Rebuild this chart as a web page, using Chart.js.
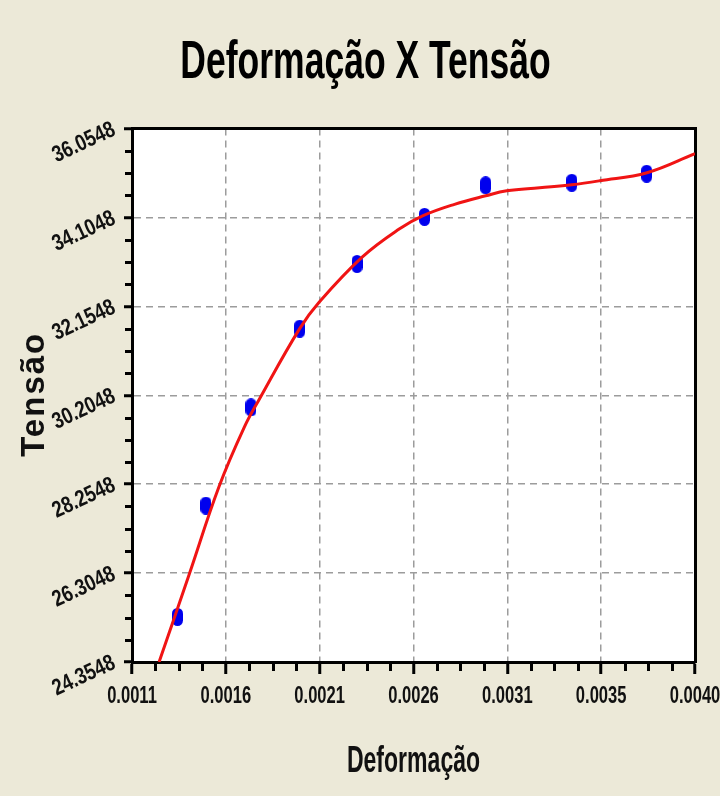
<!DOCTYPE html>
<html>
<head>
<meta charset="utf-8">
<script src="https://cdn.jsdelivr.net/npm/chart.js@4/dist/chart.umd.min.js"></script>
<style>
  html, body { margin: 0; padding: 0; background: #ECE9D8; }
  canvas { display: block; }
</style>
</head>
<body>
<canvas id="c" width="720" height="796"></canvas>
<script>
// ---- data ----
const strain = [0.001355, 0.001502, 0.001735, 0.001987, 0.002283, 0.002632, 0.002948, 0.003393, 0.003780];
const stress = [25.344, 27.786, 29.941, 31.667, 33.086, 34.119, 34.812, 34.867, 35.065];

const fitStrain = [0.00126, 0.001415, 0.00157, 0.00170, 0.001778, 0.001985, 0.002088, 0.002311, 0.002503, 0.002622, 0.002787, 0.002948, 0.003057, 0.003227, 0.003393, 0.003538, 0.003782, 0.00403];
const fitStress = [24.355, 26.268, 28.203, 29.501, 30.117, 31.656, 32.25, 33.24, 33.856, 34.14, 34.394, 34.581, 34.69, 34.757, 34.823, 34.911, 35.087, 35.505];

const xTickLabels = ['0.0011', '0.0016', '0.0021', '0.0026', '0.0031', '0.0035', '0.0040'];
const yTickLabels = ['24.3548', '26.3048', '28.2548', '30.2048', '32.1548', '34.1048', '36.0548'];
const xRange = [0.00112, 0.00403];
const yRange = [24.3548, 36.0548];

const titleText = 'Deformação X Tensão';
const xTitle = 'Deformação';
const yTitle = 'Tensão';

// ---- styling ----
const FONT = "'Liberation Sans', Arial, sans-serif";
// horizontal condensing of text by font size (reference uses a narrow, tall face)
const TEXT_SX = { 53: 0.67, 24: 0.69, 23: 0.8, 36: 0.64 };

const canvas = document.getElementById('c');
const ctx = canvas.getContext('2d');
const protoFill = CanvasRenderingContext2D.prototype.fillText;
ctx.fillText = function (t, x, y, mw) {
  const m = /(\d+(?:\.\d+)?)px/.exec(this.font);
  const sx = m ? (TEXT_SX[Math.round(parseFloat(m[1]))] || 1) : 1;
  if (sx === 1) return protoFill.call(this, t, x, y, mw);
  this.save();
  this.translate(x, y);
  this.scale(sx, 1);
  protoFill.call(this, t, 0, 0);
  this.restore();
};

function makeMarker() {
  const w = 11, h = 18;
  const c = document.createElement('canvas');
  c.width = w; c.height = h;
  const g = c.getContext('2d');
  g.fillStyle = '#0000ee';
  g.beginPath();
  const r = w / 2;
  g.moveTo(0, r);
  g.arc(r, r, r, Math.PI, 0);
  g.lineTo(w, h - r);
  g.arc(r, h - r, r, 0, Math.PI);
  g.closePath();
  g.fill();
  return c;
}

function evenTicks(range, n) {
  const out = [];
  for (let i = 0; i < n; i++) out.push({ value: range[0] + i * (range[1] - range[0]) / (n - 1) });
  return out;
}

const bgPlugin = {
  id: 'bg',
  beforeDraw(chart) {
    const { ctx, chartArea: a } = chart;
    ctx.save();
    ctx.fillStyle = '#ECE9D8';
    ctx.fillRect(0, 0, chart.width, chart.height);
    ctx.fillStyle = '#ffffff';
    ctx.fillRect(a.left, a.top, a.right - a.left, a.bottom - a.top);
    ctx.restore();
  }
};

const extrasPlugin = {
  id: 'extras',
  afterDraw(chart) {
    const { ctx, chartArea: a } = chart;
    const xs = chart.scales.x, ys = chart.scales.y;
    ctx.save();
    ctx.strokeStyle = '#000';
    ctx.lineWidth = 3;
    ctx.beginPath();
    for (let i = 0; i < xs.ticks.length - 1; i++) {
      const v0 = xs.ticks[i].value, v1 = xs.ticks[i + 1].value;
      for (let k = 1; k < 4; k++) {
        const px = Math.round(xs.getPixelForValue(v0 + k * (v1 - v0) / 4)) + 0.5;
        ctx.moveTo(px, a.bottom);
        ctx.lineTo(px, a.bottom + 9);
      }
    }
    for (let i = 0; i < ys.ticks.length - 1; i++) {
      const v0 = ys.ticks[i].value, v1 = ys.ticks[i + 1].value;
      for (let k = 1; k < 4; k++) {
        const py = Math.round(ys.getPixelForValue(v0 + k * (v1 - v0) / 4)) + 0.5;
        ctx.moveTo(a.left, py);
        ctx.lineTo(a.left - 7, py);
      }
    }
    ctx.stroke();
    // y axis title, letter-spaced
    ctx.fillStyle = '#111';
    ctx.font = "bold 33px " + FONT;
    try { ctx.letterSpacing = '2px'; } catch (e) {}
    ctx.textAlign = 'center';
    ctx.textBaseline = 'middle';
    ctx.translate(35, (a.top + a.bottom) / 2);
    ctx.rotate(-Math.PI / 2);
    protoFill.call(ctx, yTitle, 1, 0);
    ctx.restore();
  }
};

new Chart(ctx, {
  type: 'line',
  data: {
    datasets: [
      {
        label: 'Ajuste',
        data: fitStrain.map((x, i) => ({ x, y: fitStress[i] })),
        borderColor: '#f01414',
        borderWidth: 3,
        pointRadius: 0,
        tension: 0.4,
        fill: false,
        order: 0
      },
      {
        label: 'Dados',
        data: strain.map((x, i) => ({ x, y: stress[i] })),
        showLine: false,
        pointStyle: makeMarker(),
        pointRadius: 6,
        order: 1
      }
    ]
  },
  options: {
    responsive: false,
    animation: false,
    devicePixelRatio: 1,
    layout: { padding: { left: 11, right: 0, top: 0, bottom: 0 } },
    plugins: {
      legend: { display: false },
      tooltip: { enabled: false },
      title: {
        display: true,
        text: titleText,
        color: '#000',
        font: { family: FONT, size: 53, weight: 'bold', lineHeight: 1.2 },
        padding: { top: 32, bottom: 33 }
      }
    },
    scales: {
      x: {
        type: 'linear',
        position: 'bottom',
        min: xRange[0],
        max: xRange[1],
        afterBuildTicks: (s) => { s.ticks = evenTicks(xRange, xTickLabels.length); },
        afterFit: (s) => { s.height = 134; s.paddingLeft = 0; s.paddingRight = 0; },
        ticks: {
          autoSkip: false,
          maxRotation: 0,
          minRotation: 0,
          padding: 8,
          color: '#111',
          font: { family: FONT, size: 24, weight: 'bold' },
          callback: (v, i) => xTickLabels[i]
        },
        grid: {
          color: '#9c9c9c',
          lineWidth: 1.5,
          drawTicks: true,
          tickLength: 12,
          tickWidth: 3,
          tickColor: '#000',
          tickBorderDash: []
        },
        border: { display: true, color: '#000', width: 3, dash: [7, 5] },
        title: {
          display: true,
          text: xTitle,
          color: '#111',
          font: { family: FONT, size: 36, weight: 'bold', lineHeight: 1.2 },
          padding: { top: 0, bottom: 12 }
        }
      },
      x2: {
        type: 'linear',
        position: 'top',
        min: 0, max: 1,
        afterFit: (s) => { s.height = 0; },
        ticks: { display: false },
        grid: { display: false, drawTicks: false },
        border: { display: true, color: '#000', width: 3 }
      },
      y: {
        type: 'linear',
        position: 'left',
        min: yRange[0],
        max: yRange[1],
        afterBuildTicks: (s) => { s.ticks = evenTicks(yRange, yTickLabels.length); },
        afterFit: (s) => { s.width = 121; s.paddingTop = 0; s.paddingBottom = 0; },
        ticks: {
          autoSkip: false,
          minRotation: 25,
          maxRotation: 25,
          padding: 10,
          color: '#111',
          font: { family: FONT, size: 23, weight: 'bold' },
          callback: (v, i) => yTickLabels[i]
        },
        grid: {
          color: '#9c9c9c',
          lineWidth: 1.5,
          drawTicks: true,
          tickLength: 8,
          tickWidth: 3,
          tickColor: '#000',
          tickBorderDash: []
        },
        border: { display: true, color: '#000', width: 3, dash: [7, 5] }
      },
      y2: {
        type: 'linear',
        position: 'right',
        min: 0, max: 1,
        afterFit: (s) => { s.width = 25; },
        ticks: { display: false },
        grid: { display: false, drawTicks: false },
        border: { display: true, color: '#000', width: 3 }
      }
    }
  },
  plugins: [bgPlugin, extrasPlugin]
});
</script>
</body>
</html>
